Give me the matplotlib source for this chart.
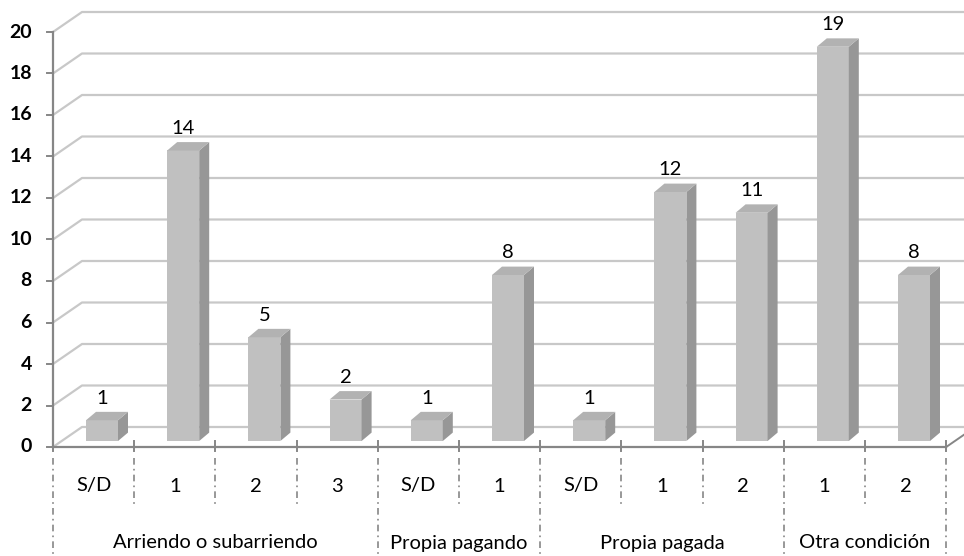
import matplotlib
matplotlib.use("Agg")
import matplotlib.pyplot as plt
from matplotlib.patches import Polygon

plt.rcParams['font.family'] = ['Lato', 'DejaVu Sans']

# datos
grupos = ["Arriendo o subarriendo", "Propia pagando", "Propia pagada", "Otra condición"]
sub_etiquetas = [["S/D", "1", "2", "3"], ["S/D", "1"], ["S/D", "1", "2"], ["1", "2"]]
valores = [[1, 14, 5, 2], [1, 8], [1, 12, 11], [19, 8]]
y_ticks = list(range(0, 21, 2))

etiquetas = [e for g in sub_etiquetas for e in g]
vals = [v for g in valores for v in g]
n = len(vals)

# escala en pixeles (figura 964x556)
PX = 81.2      # px por categoría
PY = 20.75     # px por unidad
X0, Y0 = 53, 447

fig = plt.figure(figsize=(9.64, 5.56), dpi=100)
ax = fig.add_axes([0, 0, 1, 1])
ax.set_xlim(-X0 / PX, (964 - X0) / PX)
ax.set_ylim(-(556 - Y0) / PY, Y0 / PY)
ax.axis("off")

grid_c = "#C8C8C8"
axis_c = "#868686"
txt_c = "#000000"
fs = 14.5
wdx, wdy = 29 / PX, 20 / PY   # profundidad de la pared

# líneas de la pared (3D)
xmax = (980 - X0) / PX
for t in y_ticks:
    ax.plot([0, wdx, xmax], [t, t + wdy, t + wdy], color=grid_c, lw=1.6, zorder=1,
            solid_capstyle="butt")
ax.plot([n, n + wdx], [0, wdy], color=axis_c, lw=1.4, zorder=1)

# ejes
ax.plot([0, 0], [0, 20], color=axis_c, lw=1.6, zorder=3)
ax.plot([0, n], [0, 0], color=axis_c, lw=1.6, zorder=3)
for t in y_ticks:
    ax.plot([-6 / PX, 0], [t, t], color=axis_c, lw=1.4, zorder=3)
    ax.text(-21 / PX, t, str(t), ha="right", va="center", fontsize=14,
            fontweight="bold", color=txt_c)
for i in range(n + 1):
    ax.plot([i, i], [6 / PY, -4 / PY], color=axis_c, lw=1.4, zorder=3)

# barras 3D
fx, fw = 33 / PX, 32 / PX
sdx, sdy = 10 / PX, 8.4 / PY
base = 6 / PY
for i, v in enumerate(vals):
    x1 = i + fx
    x2 = x1 + fw
    top = base + v
    ax.add_patch(Polygon([(x1, base), (x2, base), (x2, top), (x1, top)],
                         closed=True, fc="#C0C0C0", ec="none", zorder=4))
    ax.add_patch(Polygon([(x2, base), (x2 + sdx, base + sdy), (x2 + sdx, top + sdy), (x2, top)],
                         closed=True, fc="#979797", ec="none", zorder=4))
    ax.add_patch(Polygon([(x1, top), (x2, top), (x2 + sdx, top + sdy), (x1 + sdx, top + sdy)],
                         closed=True, fc="#B2B2B2", ec="none", zorder=4))
    ax.text(x1 + fw / 2, top + 22 / PY, str(v), ha="center", va="center",
            fontsize=fs, color=txt_c)

# etiquetas de categorías
for i, e in enumerate(etiquetas):
    ax.text(i + 0.5, -39 / PY, e, ha="center", va="center", fontsize=fs, color=txt_c)

limites = [0]
for g in sub_etiquetas:
    limites.append(limites[-1] + len(g))

for i in range(n + 1):
    y_bot = -(556 - Y0) / PY if i in limites else -58 / PY
    ax.plot([i, i], [-11 / PY, y_bot], color=axis_c, lw=1.2, zorder=3,
            dashes=(4, 2.5, 1, 2.5))

for k, g in enumerate(grupos):
    xc = (limites[k] + limites[k + 1]) / 2
    ax.text(xc, -96 / PY, g, ha="center", va="center", fontsize=fs, color=txt_c)

fig.savefig("out.png", dpi=100)
